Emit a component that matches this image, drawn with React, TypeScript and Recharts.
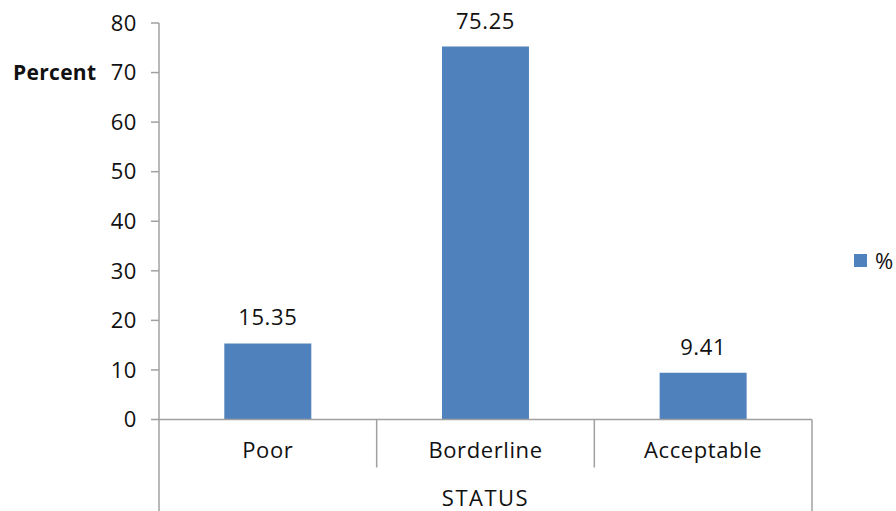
import React from 'react';
import { BarChart, Bar, XAxis, YAxis, LabelList } from 'recharts';

const CATEGORIES = ['Poor', 'Borderline', 'Acceptable'];
const PERCENT = [15.35, 75.25, 9.41];
const Y_TICKS = [0, 10, 20, 30, 40, 50, 60, 70, 80];
const SERIES_NAME = '%';
const AXIS_TITLE_X = 'STATUS';
const AXIS_TITLE_Y = 'Percent';
const AXIS_TITLE_Y_AT = 70;

const CHART_W = 896;
const CHART_H = 511;
const MARGIN = { top: 23, right: 84, bottom: 0, left: 0 };
const Y_AXIS_W = 159;
const X_AXIS_H = 91.5;
const PLOT_W = CHART_W - MARGIN.left - MARGIN.right - Y_AXIS_W;
const AXIS_Y = CHART_H - MARGIN.bottom - X_AXIS_H;
const BAND = PLOT_W / CATEGORIES.length;

const BAR_COLOR = '#4f81bd';
const AXIS_COLOR = '#a0a0a0';
const TEXT_COLOR = '#111';
const FONT = '"Open Sans", sans-serif';
const FONT_SIZE = 22;
const SPACING = 0.6;

const data = CATEGORIES.map((status, i) => ({ status, value: PERCENT[i] }));

// category label plus the divider lines of the two-level category axis
const CategoryTick = (props: any) => {
  const { x, payload, index } = props;
  const last = index === CATEGORIES.length - 1;
  const right = x + BAND / 2;
  const left = x - BAND / 2;
  return (
    <g>
      <text
        x={x}
        y={AXIS_Y + 38}
        textAnchor="middle"
        fill={TEXT_COLOR}
        fontFamily={FONT}
        fontSize={FONT_SIZE}
        letterSpacing={SPACING}
      >
        {payload.value}
      </text>
      {index === 0 && (
        <line x1={left} x2={left} y1={AXIS_Y} y2={CHART_H} stroke={AXIS_COLOR} strokeWidth={1.5} />
      )}
      <line
        x1={right}
        x2={right}
        y1={AXIS_Y}
        y2={last ? CHART_H : AXIS_Y + 48}
        stroke={AXIS_COLOR}
        strokeWidth={1.5}
      />
    </g>
  );
};

const XTitle = (props: any) => {
  const { viewBox } = props;
  return (
    <text
      x={viewBox.x + viewBox.width / 2}
      y={viewBox.y + viewBox.height - 5}
      textAnchor="middle"
      fill={TEXT_COLOR}
      fontFamily={FONT}
      fontSize={FONT_SIZE}
      letterSpacing={1.5}
    >
      {AXIS_TITLE_X}
    </text>
  );
};

const YTitle = (props: any) => {
  const { viewBox } = props;
  const y = viewBox.y + viewBox.height * (1 - AXIS_TITLE_Y_AT / Y_TICKS[Y_TICKS.length - 1]);
  return (
    <text
      x={13}
      y={y + 7}
      textAnchor="start"
      fill={TEXT_COLOR}
      fontFamily={FONT}
      fontSize={21}
      fontWeight={700}
      letterSpacing={0.3}
    >
      {AXIS_TITLE_Y}
    </text>
  );
};

export default function App() {
  return (
    <div
      style={{
        position: 'absolute',
        left: 0,
        top: 0,
        width: CHART_W,
        height: CHART_H,
        background: '#fff',
        fontFamily: FONT,
      }}
    >
      <BarChart width={CHART_W} height={CHART_H} data={data} margin={MARGIN} barCategoryGap="30%">
        <XAxis
          dataKey="status"
          height={X_AXIS_H}
          tickLine={false}
          axisLine={{ stroke: AXIS_COLOR, strokeWidth: 1.5 }}
          tick={<CategoryTick />}
          interval={0}
          label={<XTitle />}
        />
        <YAxis
          width={Y_AXIS_W}
          domain={[0, 80]}
          ticks={Y_TICKS}
          interval={0}
          tickSize={8}
          tickMargin={14}
          axisLine={{ stroke: AXIS_COLOR, strokeWidth: 1.5 }}
          tickLine={{ stroke: AXIS_COLOR, strokeWidth: 1.5 }}
          tick={{ fill: TEXT_COLOR, fontSize: FONT_SIZE, fontFamily: FONT, letterSpacing: SPACING }}
          label={<YTitle />}
        />
        <Bar dataKey="value" name={SERIES_NAME} fill={BAR_COLOR} isAnimationActive={false}>
          <LabelList
            dataKey="value"
            position="top"
            offset={18}
            fill={TEXT_COLOR}
            fontSize={FONT_SIZE}
            fontFamily={FONT}
            letterSpacing={SPACING}
          />
        </Bar>
      </BarChart>
      <div
        style={{
          position: 'absolute',
          left: 854,
          top: 247,
          display: 'flex',
          alignItems: 'center',
          gap: 8,
          fontSize: FONT_SIZE,
          color: TEXT_COLOR,
          lineHeight: '26px',
        }}
      >
        <span style={{ width: 13, height: 13, background: BAR_COLOR, display: 'inline-block' }} />
        <span>{SERIES_NAME}</span>
      </div>
    </div>
  );
}
